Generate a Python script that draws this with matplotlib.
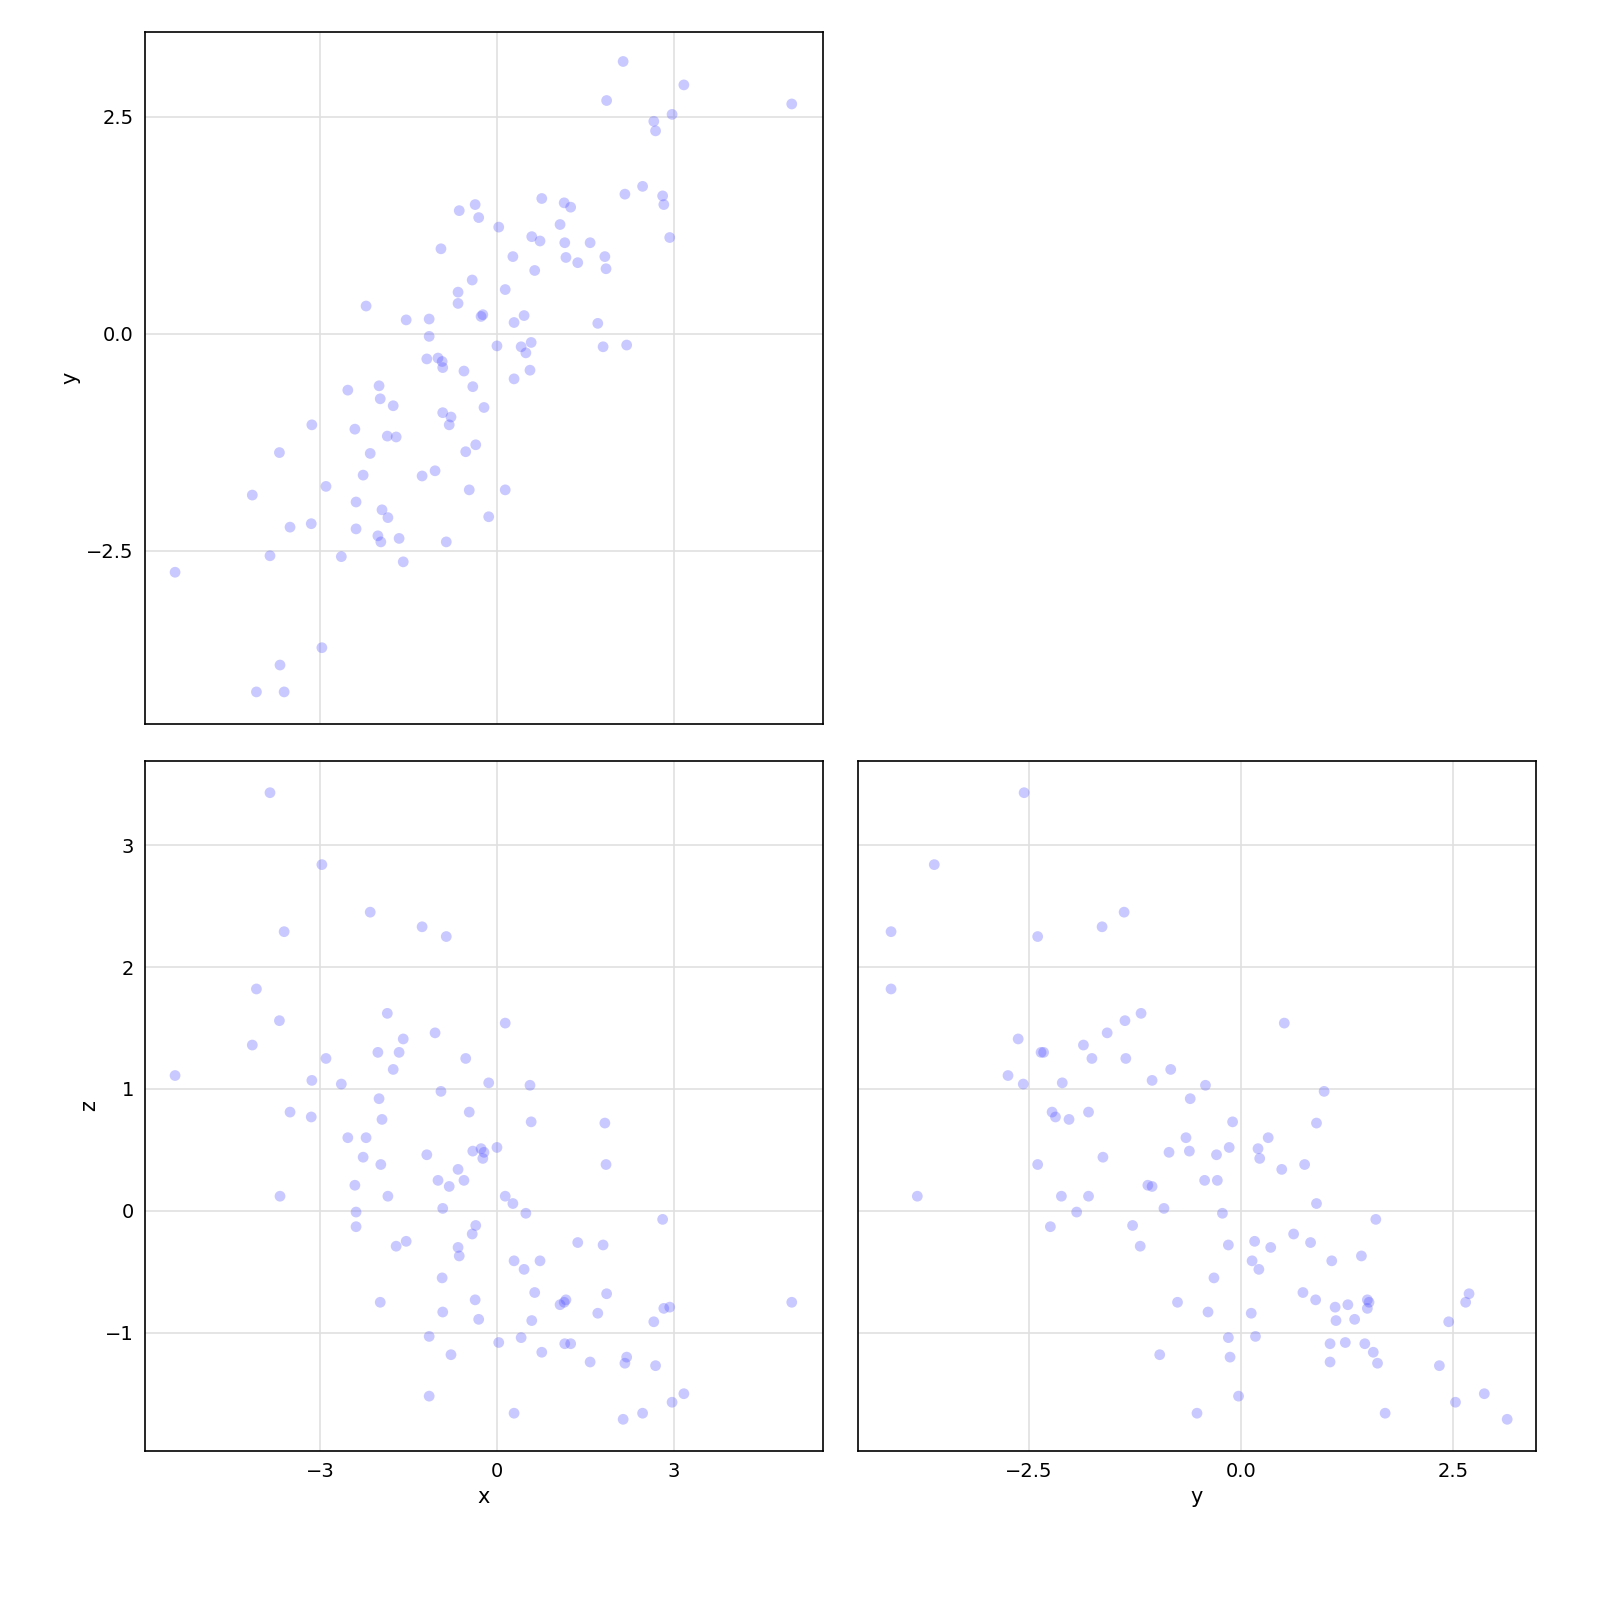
import matplotlib
matplotlib.use("Agg")
import matplotlib.pyplot as plt

x = [-5.46,-4.15,-4.08,-3.85,-3.69,-3.68,-3.61,-3.51,-3.15,-3.14,-2.97,-2.90,-2.64,-2.53,-2.41,-2.39,-2.39,-2.27,-2.22,-2.15,
     -2.02,-2.00,-1.98,-1.97,-1.95,-1.86,-1.85,-1.76,-1.71,-1.66,-1.59,-1.54,-1.27,-1.19,-1.15,-1.15,-1.05,-1.00,-0.95,-0.93,
     -0.92,-0.92,-0.86,-0.81,-0.78,-0.66,-0.66,-0.64,-0.56,-0.53,-0.47,-0.42,-0.41,-0.37,-0.36,-0.31,-0.27,-0.24,-0.22,-0.14,
     0.00,0.03,0.14,0.14,0.27,0.29,0.29,0.41,0.46,0.49,0.56,0.58,0.59,0.64,0.73,0.76,1.07,1.14,1.15,1.17,
     1.25,1.37,1.58,1.71,1.80,1.83,1.85,1.86,2.14,2.17,2.20,2.47,2.66,2.69,2.81,2.83,2.93,2.97,3.17,5.00]
y = [-2.75,-1.86,-4.13,-2.56,-1.37,-3.82,-4.13,-2.23,-2.19,-1.05,-3.62,-1.76,-2.57,-0.65,-1.10,-1.94,-2.25,-1.63,0.32,-1.38,
     -2.33,-0.60,-0.75,-2.40,-2.03,-1.18,-2.12,-0.83,-1.19,-2.36,-2.63,0.16,-1.64,-0.29,0.17,-0.03,-1.58,-0.28,0.98,-0.32,
     -0.39,-0.91,-2.40,-1.05,-0.96,0.48,0.35,1.42,-0.43,-1.36,-1.80,0.62,-0.61,1.49,-1.28,1.34,0.20,0.22,-0.85,-2.11,
     -0.14,1.23,-1.80,0.51,0.89,-0.52,0.13,-0.15,0.21,-0.22,-0.42,-0.10,1.12,0.73,1.07,1.56,1.26,1.51,1.05,0.88,
     1.46,0.82,1.05,0.12,-0.15,0.89,0.75,2.69,3.14,1.61,-0.13,1.70,2.45,2.34,1.59,1.49,1.11,2.53,2.87,2.65]
z = [1.11,1.36,1.82,3.43,1.56,0.12,2.29,0.81,0.77,1.07,2.84,1.25,1.04,0.60,0.21,-0.01,-0.13,0.44,0.60,2.45,
     1.30,0.92,-0.75,0.38,0.75,1.62,0.12,1.16,-0.29,1.30,1.41,-0.25,2.33,0.46,-1.03,-1.52,1.46,0.25,0.98,-0.55,
     -0.83,0.02,2.25,0.20,-1.18,0.34,-0.30,-0.37,0.25,1.25,0.81,-0.19,0.49,-0.73,-0.12,-0.89,0.51,0.43,0.48,1.05,
     0.52,-1.08,0.12,1.54,0.06,-1.66,-0.41,-1.04,-0.48,-0.02,1.03,0.73,-0.90,-0.67,-0.41,-1.16,-0.77,-0.75,-1.09,-0.73,
     -1.09,-0.26,-1.24,-0.84,-0.28,0.72,0.38,-0.68,-1.71,-1.25,-1.20,-1.66,-0.91,-1.27,-0.07,-0.80,-0.79,-1.57,-1.50,-0.75]

plt.rcParams['font.family'] = ['DejaVu Sans']
fig = plt.figure(figsize=(16, 16), dpi=100)
W = 678/1600
ax1 = fig.add_axes([145/1600, 1-724/1600, W, 692/1600])
ax2 = fig.add_axes([145/1600, 1-1451/1600, W, 690/1600])
ax3 = fig.add_axes([858/1600, 1-1451/1600, W, 690/1600])

kw = dict(s=60, color=(0.3, 0.3, 1.0), alpha=0.3, edgecolors='none')
ax1.scatter(x, y, **kw)
ax2.scatter(x, z, **kw)
ax3.scatter(y, z, **kw)

for ax in (ax1, ax2, ax3):
    ax.grid(True, color='#e0e0e0', linewidth=1.2)
    ax.set_axisbelow(True)
    ax.tick_params(length=0, labelsize=14, pad=8)
    for s in ax.spines.values():
        s.set_linewidth(1.2)

ax1.set_xlim(-5.97, 5.53); ax2.set_xlim(-5.97, 5.53)
ax1.set_ylim(-4.50, 3.48)
ax2.set_ylim(-1.97, 3.69); ax3.set_ylim(-1.97, 3.69)
ax3.set_xlim(-4.52, 3.48)
ax1.set_xticks([-3, 0, 3]); ax2.set_xticks([-3, 0, 3])
ax1.set_xticklabels([])
ax1.set_yticks([-2.5, 0, 2.5])
ax3.set_xticks([-2.5, 0, 2.5])
ax2.set_yticks([-1, 0, 1, 2, 3])
ax3.set_yticks([-1, 0, 1, 2, 3]); ax3.set_yticklabels([])

ax1.set_ylabel('y', fontsize=15)
ax2.set_ylabel('z', fontsize=15)
ax2.set_xlabel('x', fontsize=15)
ax3.set_xlabel('y', fontsize=15)

fig.savefig('out.png', dpi=100)
